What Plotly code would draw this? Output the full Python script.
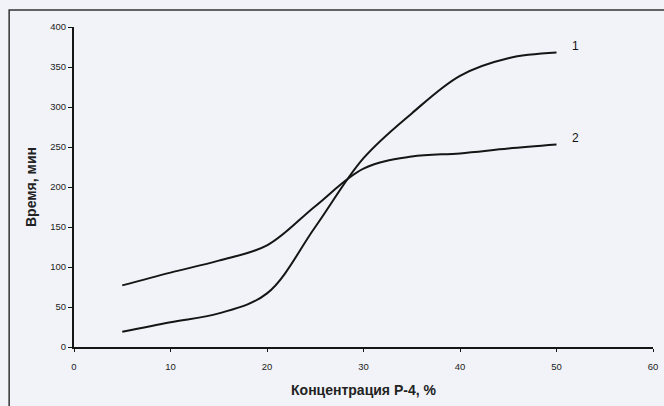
import plotly.graph_objects as go

x_conc = [5, 10, 15, 20, 25, 30, 35, 40, 45, 50]
series1 = [19, 31, 42, 67, 150, 236, 292, 339, 361, 368]
series2 = [77, 93, 108, 127, 176, 223, 238, 242, 248, 253]
x_ticks = [0, 10, 20, 30, 40, 50, 60]
y_ticks = [0, 50, 100, 150, 200, 250, 300, 350, 400]
labels = ["1", "2"]

fig = go.Figure()
for ys in (series1, series2):
    fig.add_trace(go.Scatter(x=x_conc, y=ys, mode="lines",
                             line=dict(color="#151515", width=2, shape="spline", smoothing=1.0),
                             showlegend=False))

fig.add_annotation(x=52, y=series1[-1] + 8, text=labels[0], showarrow=False,
                   font=dict(family="Liberation Sans, Arial", size=12, color="#111"))
fig.add_annotation(x=52, y=series2[-1] + 8, text=labels[1], showarrow=False,
                   font=dict(family="Liberation Sans, Arial", size=12, color="#111"))

fig.update_layout(
    width=664, height=406,
    margin=dict(l=74, r=11, t=27, b=59, autoexpand=False),
    paper_bgcolor="#f1f3f8", plot_bgcolor="#f1f3f8",
    font=dict(family="Liberation Sans, Arial", color="#222"),
    shapes=[dict(type="rect", xref="paper", yref="paper", x0=-0.112, x1=1.06, y0=-0.3, y1=1.053,
                 line=dict(color="#333", width=1.5))],
)
fig.update_xaxes(range=[0, 60], tickvals=x_ticks, showgrid=False, zeroline=False,
                 showline=True, linecolor="#151515", linewidth=2, automargin=False,
                 ticks="outside", ticklen=3, tickcolor="#151515",
                 tickfont=dict(size=9.5), ticklabelstandoff=7,
                 title=dict(text="<b>Концентрация Р-4, %</b>", font=dict(size=14), standoff=14))
fig.update_yaxes(range=[0, 400], tickvals=y_ticks, showgrid=False, zeroline=False,
                 showline=True, linecolor="#151515", linewidth=2, automargin=False,
                 ticks="outside", ticklen=4, tickcolor="#151515",
                 tickfont=dict(size=9.5),
                 title=dict(text="<b>Время, мин</b>", font=dict(size=14), standoff=10))

fig.write_html("out.html", config={"displayModeBar": False},
               post_script="document.body.style.margin='0';document.body.style.overflow='hidden';")
